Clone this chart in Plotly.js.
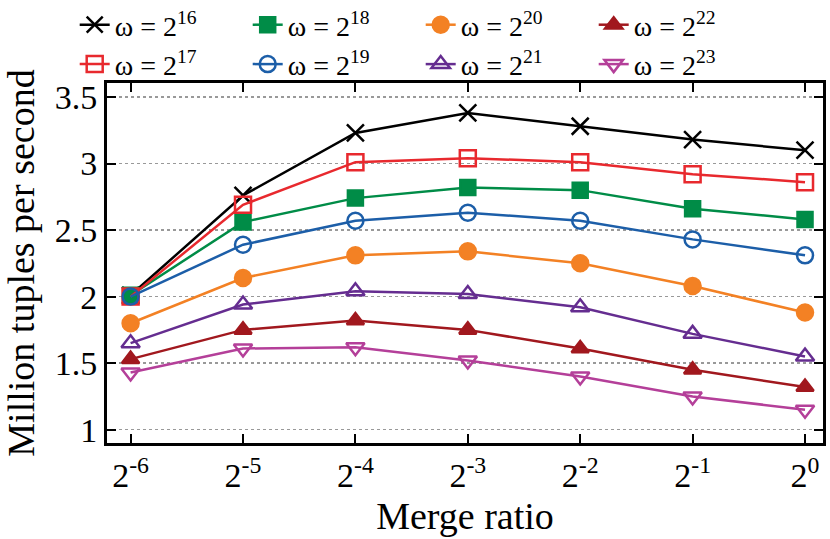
<!DOCTYPE html>
<html>
<head>
<meta charset="utf-8">
<script src="https://cdn.plot.ly/plotly-3.0.1.min.js"></script>
<style>
  body { margin: 0; background: #fff; }
  #chart { width: 830px; height: 539px; }
</style>
</head>
<body>
<div id="chart"></div>
<script>
// merge ratio 2^-6 .. 2^0, plotted at even spacing
var ratios = [0, 1, 2, 3, 4, 5, 6];
var ratioLabels = ["2<sup>-6</sup>", "2<sup>-5</sup>", "2<sup>-4</sup>", "2<sup>-3</sup>",
                   "2<sup>-2</sup>", "2<sup>-1</sup>", "2<sup>0</sup>"];

// million tuples per second, one array per window size
var w16 = [2.01, 2.76, 3.23, 3.38, 3.28, 3.18, 3.10];
var w17 = [2.00, 2.69, 3.01, 3.04, 3.01, 2.92, 2.86];
var w18 = [2.01, 2.56, 2.74, 2.82, 2.80, 2.66, 2.58];
var w19 = [2.00, 2.39, 2.57, 2.63, 2.57, 2.43, 2.31];
var w20 = [1.80, 2.14, 2.31, 2.34, 2.25, 2.08, 1.88];
var w21 = [1.65, 1.94, 2.04, 2.02, 1.92, 1.72, 1.55];
var w22 = [1.53, 1.75, 1.82, 1.75, 1.61, 1.45, 1.32];
var w23 = [1.43, 1.61, 1.62, 1.52, 1.40, 1.25, 1.15];

var yTicks = [1, 1.5, 2, 2.5, 3, 3.5];

function series(y, name, color, symbol, size){
    return {
        x: ratios,
        y: y,
        name: name,
        type: 'scatter',
        mode: 'lines+markers',
        line: {color: color, width: 2.5},
        marker: {symbol: symbol, size: size, color: color, line: {color: color, width: 2.5}}
    };
}

function omega(p){ return "ω = 2<sup>" + p + "</sup>"; }

var t16 = series(w16, omega(16), '#000000', 'x-thin-open', 17);
var t17 = series(w17, omega(17), '#e8292e', 'square-open', 16);
var t18 = series(w18, omega(18), '#008c47', 'square', 15);
var t19 = series(w19, omega(19), '#1c5ea8', 'circle-open', 16);
var t20 = series(w20, omega(20), '#f38124', 'circle', 16);
var t21 = series(w21, omega(21), '#652d90', 'triangle-up-open', 16);
var t22 = series(w22, omega(22), '#a1181e', 'triangle-up', 15);
var t23 = series(w23, omega(23), '#b43f99', 'triangle-down-open', 16);

// legend fills rows left to right: 16 18 20 22 / 17 19 21 23
var data = [t16, t18, t20, t22, t17, t19, t21, t23];

var serif = '"Liberation Serif", "DejaVu Serif", serif';
var tickFont = {family: serif, size: 34, color: '#000'};
var titleFont = {family: serif, size: 38, color: '#000'};
var legendFont = {family: serif, size: 28, color: '#000'};

var layout = {
    width: 830,
    height: 539,
    margin: {l: 107, r: 7, t: 83, b: 96, autoexpand: false},
    paper_bgcolor: '#fff',
    plot_bgcolor: '#fff',
    font: tickFont,
    showlegend: true,
    legend: {
        orientation: 'h',
        x: 0.09, xref: 'container', xanchor: 'left',
        y: 1, yref: 'container', yanchor: 'top',
        entrywidth: 128,
        entrywidthmode: 'pixels',
        itemwidth: 30,
        tracegroupgap: 0,
        font: legendFont,
        bgcolor: 'rgba(0,0,0,0)'
    },
    xaxis: {
        range: [-0.21, 6.16],
        tickvals: ratios,
        ticktext: ratioLabels,
        ticks: 'inside',
        ticklen: 9,
        tickwidth: 2,
        tickcolor: '#000',
        showline: true,
        linewidth: 3,
        linecolor: '#000',
        mirror: 'ticks',
        showgrid: false,
        zeroline: false,
        tickfont: tickFont,
        title: {text: 'Merge ratio', font: titleFont, standoff: 10}
    },
    yaxis: {
        range: [0.9, 3.605],
        tickvals: yTicks,
        ticks: 'inside',
        ticklen: 9,
        tickwidth: 2,
        tickcolor: '#000',
        showline: true,
        linewidth: 3,
        linecolor: '#000',
        mirror: 'ticks',
        showgrid: true,
        gridcolor: '#999999',
        gridwidth: 1.5,
        griddash: 'dot',
        zeroline: false,
        tickfont: tickFont,
        title: {text: 'Million tuples per second', font: titleFont, standoff: 16}
    }
};

Plotly.newPlot('chart', data, layout, {staticPlot: true});
</script>
</body>
</html>
